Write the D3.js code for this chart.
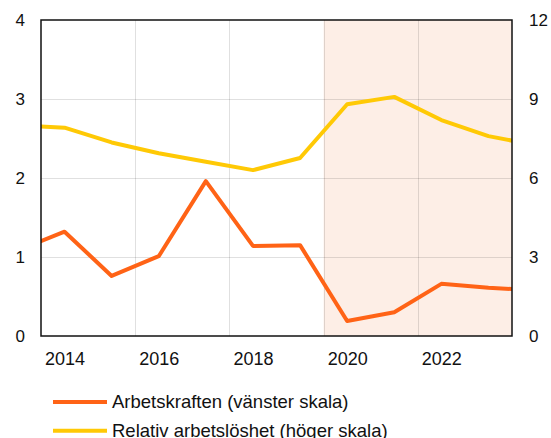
<!DOCTYPE html>
<html>
<head>
<meta charset="utf-8">
<title>Arbetskraften och relativ arbetslöshet</title>
<script src="https://cdn.jsdelivr.net/npm/d3@7"></script>
<style>
  html, body { margin: 0; padding: 0; background: #fff; }
  svg { display: block; font-family: "Liberation Sans", Arial, sans-serif; }
  .grid line { stroke: #000; stroke-opacity: 0.12; shape-rendering: crispEdges; }
  .frame { fill: none; stroke: #111; stroke-width: 1.5; }
  .tick-label { fill: #111; }
</style>
</head>
<body>
<svg width="551" height="438"></svg>
<script>
// values (annual; first and last points lie just outside the frame)
var years      = [2013, 2014, 2015, 2016, 2017, 2018, 2019, 2020, 2021, 2022, 2023, 2024];
var labourForce = [1.08, 1.32, 0.76, 1.01, 1.96, 1.14, 1.15, 0.19, 0.30, 0.66, 0.61, 0.58];
var relUnemp    = [8.01, 7.91, 7.35, 6.94, 6.62, 6.30, 6.76, 8.80, 9.08, 8.20, 7.59, 7.25];

var xTicks = [2014, 2016, 2018, 2020, 2022];
var leftTicks = [0, 1, 2, 3, 4];
var rightTicks = [0, 3, 6, 9, 12];
var shadeFrom = 2019.5, shadeTo = 2023.5;

var seriesNames = ["Arbetskraften (vänster skala)", "Relativ arbetslöshet (höger skala)"];
var colors = ["#ff6316", "#ffc905"];

var svg = d3.select("svg"),
    margin = {top: 20, right: 39, bottom: 102, left: 41},
    width = +svg.attr("width") - margin.left - margin.right,
    height = +svg.attr("height") - margin.top - margin.bottom;

var x = d3.scaleLinear().domain([2013.5, 2023.5]).range([0, width]);
var yL = d3.scaleLinear().domain([0, 4]).range([height, 0]);
var yR = d3.scaleLinear().domain([0, 12]).range([height, 0]);

var g = svg.append("g")
    .attr("transform", "translate(" + margin.left + "," + margin.top + ")");

g.append("defs").append("clipPath").attr("id", "plot")
  .append("rect").attr("width", width).attr("height", height);

// shaded forecast period
g.append("rect")
    .attr("x", x(shadeFrom))
    .attr("y", 0)
    .attr("width", x(shadeTo) - x(shadeFrom))
    .attr("height", height)
    .attr("fill", "#fdeee6");

// grid
var grid = g.append("g").attr("class", "grid");
grid.selectAll(".h").data(leftTicks.slice(1, -1)).enter().append("line")
    .attr("x1", 0).attr("x2", width)
    .attr("y1", function(d) { return Math.round(yL(d)) + 0.5; })
    .attr("y2", function(d) { return Math.round(yL(d)) + 0.5; });
grid.selectAll(".v").data(xTicks.slice(1)).enter().append("line")
    .attr("y1", 0).attr("y2", height)
    .attr("x1", function(d) { return Math.round(x(d - 0.5)) + 0.5; })
    .attr("x2", function(d) { return Math.round(x(d - 0.5)) + 0.5; });

// lines
var lineL = d3.line()
    .x(function(d, i) { return x(years[i]); })
    .y(function(d) { return yL(d); });
var lineR = d3.line()
    .x(function(d, i) { return x(years[i]); })
    .y(function(d) { return yR(d); });

var lines = g.append("g").attr("clip-path", "url(#plot)");
lines.append("path").datum(relUnemp)
    .attr("d", lineR)
    .attr("fill", "none").attr("stroke", colors[1])
    .attr("stroke-width", 4).attr("stroke-linejoin", "round");
lines.append("path").datum(labourForce)
    .attr("d", lineL)
    .attr("fill", "none").attr("stroke", colors[0])
    .attr("stroke-width", 4).attr("stroke-linejoin", "round");

// frame
g.append("rect").attr("class", "frame")
    .attr("x", 0).attr("y", 0).attr("width", width).attr("height", height);

// axes
var axL = g.append("g")
    .call(d3.axisLeft(yL).tickValues(leftTicks).tickFormat(d3.format("d")).tickSize(0).tickPadding(16));
var axR = g.append("g")
    .attr("transform", "translate(" + width + ",0)")
    .call(d3.axisRight(yR).tickValues(rightTicks).tickFormat(d3.format("d")).tickSize(0).tickPadding(17));
var axB = g.append("g")
    .attr("transform", "translate(0," + height + ")")
    .call(d3.axisBottom(x).tickValues(xTicks).tickFormat(d3.format("d")).tickSize(0).tickPadding(16));

[axL, axR, axB].forEach(function(a) {
  a.select(".domain").remove();
  a.selectAll("text").attr("class", "tick-label")
    .style("font-family", "'Liberation Sans', Arial, sans-serif");
});
axL.selectAll("text").style("font-size", "17px");
axR.selectAll("text").style("font-size", "17px");
axB.selectAll("text").style("font-size", "18px");

// legend
var legend = svg.append("g").attr("transform", "translate(53,402)");
var item = legend.selectAll("g").data(seriesNames).enter().append("g")
    .attr("transform", function(d, i) { return "translate(0," + (i * 28.7) + ")"; });
item.append("line")
    .attr("x1", 0).attr("x2", 54).attr("y1", 0).attr("y2", 0)
    .attr("stroke", function(d, i) { return colors[i]; })
    .attr("stroke-width", 4);
item.append("text")
    .attr("x", 59).attr("y", 0).attr("dy", "0.35em")
    .style("font-size", "18.5px").attr("fill", "#111")
    .text(function(d) { return d; });
</script>
</body>
</html>
